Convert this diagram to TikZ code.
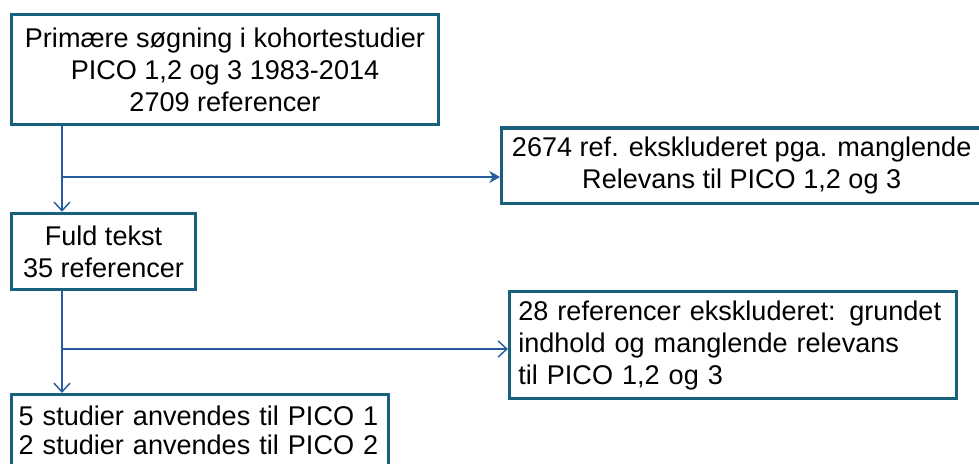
\documentclass[tikz,border=0pt]{standalone}
\usepackage{fontspec}
\setmainfont{Liberation Sans}
\usetikzlibrary{arrows.meta}
\definecolor{boxline}{RGB}{24,96,124}
\definecolor{flow}{RGB}{40,92,160}
\begin{document}
\begin{tikzpicture}[x=0.75pt,y=-0.75pt,
  stepbox/.style={draw=boxline,line width=2.6pt,rectangle,inner sep=0pt,
    font=\fontsize{20.3}{24}\selectfont},
  flowline/.style={draw=flow,line width=1.1pt},
  vhead/.style={flowline,-{Straight Barb[length=6.5pt,width=12pt,line width=1.1pt]}},
  shead/.style={flowline,-{Stealth[length=8pt,width=9pt]}}]
\clip (0,0) rectangle (979,464);
\fill[white] (0,0) rectangle (979,464);
% boxes
\node[stepbox,minimum width=320.6pt,minimum height=82.5pt,align=center]
  (b1) at (225,69.5) {Primære søgning i kohortestudier\\PICO 1,2 og 3 1983-2014\\2709 referencer};
\node[stepbox,minimum width=360pt,minimum height=56.6pt,align=center]
  (b2) at (741.7,165.7) {2674 ref. ekskluderet pga. manglende\\Relevans til PICO 1,2 og 3};
\node[stepbox,minimum width=138pt,minimum height=57pt,align=center]
  (b3) at (103.5,251.5) {Fuld tekst\\35 referencer};
\node[stepbox,minimum width=335pt,minimum height=80pt,text width=322pt,align=left]
  (b4) at (733,345) {28 referencer ekskluderet: grundet\\indhold og manglende relevans\\til PICO 1,2 og 3};
\node[stepbox,minimum width=283pt,minimum height=53pt,text width=272pt,align=left,
  font=\fontsize{20.3}{22}\selectfont]
  (b5) at (200,430) {5 studier anvendes til PICO 1\\2 studier anvendes til PICO 2};
% junctions on the main flow line
\coordinate (j1) at (62,177);
\coordinate (j2) at (62,349);
% connectors
\draw[vhead] (j1 |- b1.south) -- (j1 |- b3.north);
\draw[shead] (j1) -- (j1 -| b2.west);
\draw[vhead] (j2 |- b3.south) -- (j2 |- b5.north);
\draw[vhead] (j2) -- (j2 -| b4.west);
\end{tikzpicture}
\end{document}
